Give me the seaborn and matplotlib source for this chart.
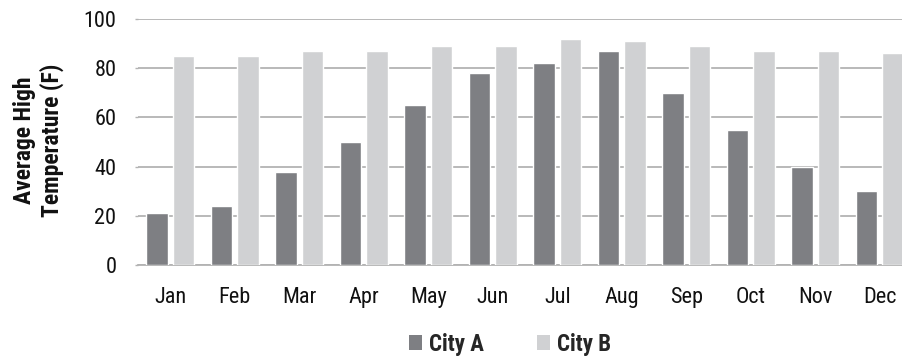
import matplotlib
matplotlib.use("Agg")
import matplotlib.pyplot as plt
import seaborn as sns
import pandas as pd
from matplotlib.patches import Patch

months = ["Jan", "Feb", "Mar", "Apr", "May", "Jun", "Jul", "Aug", "Sep", "Oct", "Nov", "Dec"]
city_a = [21, 24, 38, 50, 65, 78, 82, 87, 70, 55, 40, 30]
city_b = [85, 85, 87, 87, 89, 89, 92, 91, 89, 87, 87, 86]
series_names = ["City A", "City B"]
y_ticks = [0, 20, 40, 60, 80, 100]

sns.set_theme(style="white")
regular_fam = ['Liberation Sans Narrow', 'Roboto Condensed', 'Archivo Narrow', 'Liberation Sans', 'DejaVu Sans']
bold_fam = ['Liberation Sans Narrow', 'Roboto Condensed', 'Fira Sans Condensed', 'Liberation Sans', 'DejaVu Sans']
plt.rcParams['font.family'] = regular_fam

df = pd.DataFrame({
    "Month": months * 2,
    "Temp": city_a + city_b,
    "City": [series_names[0]] * len(months) + [series_names[1]] * len(months),
})

fig = plt.figure(figsize=(9.03, 3.56), dpi=100)
ax = fig.add_axes([138 / 903, 1 - 265 / 356, (912 - 138) / 903, (265 - 19) / 356])

palette = {series_names[0]: "#7e7f83", series_names[1]: "#d0d1d3"}
sns.barplot(data=df, x="Month", y="Temp", hue="City", order=months,
            hue_order=series_names, palette=palette, width=0.82, gap=0.19,
            saturation=1, ax=ax, legend=False, zorder=3)

ax.set_ylim(0, 100)
ax.set_xlim(-0.5, 11.5)
ax.set_yticks(y_ticks)
ax.set_yticklabels([str(t) for t in y_ticks])
ax.yaxis.grid(True, color="#b3b3b3", linewidth=1.3, zorder=0)
ax.set_axisbelow(True)
for s in ["top", "right", "left"]:
    ax.spines[s].set_visible(False)
ax.spines["bottom"].set_color("#b3b3b3")
ax.spines["bottom"].set_linewidth(1.3)
ax.tick_params(axis="y", length=2.5, color="#b3b3b3", width=1, labelsize=16, pad=13, left=True)
ax.tick_params(axis="x", length=0, labelsize=16, pad=16)
for lbl in ax.get_xticklabels() + ax.get_yticklabels():
    lbl.set_color("#111111")
ax.set_xlabel("")
ax.set_ylabel("")
fig.text(25 / 903, 1 - 140 / 356, "Average High", rotation=90, ha="center", va="center",
         fontsize=17, fontweight="bold", family=bold_fam, color="#111111")
fig.text(52 / 903, 1 - 140 / 356, "Temperature (F)", rotation=90, ha="center", va="center",
         fontsize=17, fontweight="bold", family=bold_fam, color="#111111")

handles = [Patch(facecolor=palette[n], edgecolor="none") for n in series_names]
fig.legend(handles, series_names, loc="center", bbox_to_anchor=(510 / 903, 1 - 344 / 356),
           ncol=2, frameon=False, prop={"weight": "bold", "size": 16.5, "family": bold_fam},
           handlelength=0.6, handleheight=0.6, handletextpad=0.3, columnspacing=2.3)

fig.savefig("out.png", dpi=100)
